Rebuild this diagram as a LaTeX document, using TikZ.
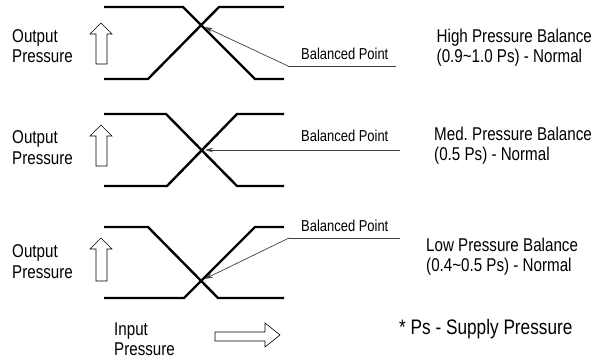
\documentclass[tikz,border=0pt]{standalone}
\usepackage{fontspec}
\setmainfont[FakeStretch=0.82]{Liberation Sans}
\frenchspacing
\usepackage{tikz}
\usetikzlibrary{arrows.meta}
\tikzstyle{curve} = [line width=2.4pt, draw=black]
\tikzstyle{hollow} = [draw=black, line width=0.6pt]
\tikzstyle{leader} = [draw=black!75, line width=0.7pt]
\tikzstyle{arrow} = [leader,-{Stealth[length=8pt,width=4.5pt]},shorten >=3.5pt]
\tikzstyle{axis} = [align=left, anchor=north west, inner sep=0pt, font=\fontsize{18.5}{20.5}\selectfont]
\tikzstyle{mode} = [align=left, anchor=north west, inner sep=0pt, font=\fontsize{18.5}{19.5}\selectfont]
\tikzstyle{point} = [anchor=base west, inner sep=0pt, font=\fontsize{15.8}{18}\selectfont]

\begin{document}
\begin{tikzpicture}[x=1pt,y=-1pt]
\useasboundingbox (0,0) rectangle (604,362);

% high pressure balance
\node (out1) [axis] at (12,29.2) {Output\\Pressure};
\draw [hollow] (101,23) -- (112,34) -- (107,34) -- (107,64) -- (96,64) -- (96,34) -- (90,34) -- cycle;
\draw [curve] (104,7) -- (183,7) -- (255,79) -- (284,79);
\draw [curve] (104,79) -- (148,79) -- (219,7) -- (284,7);
\coordinate (x1) at (201.5,25.5);
\node (bp1) [point] at (301,59.3) {Balanced Point};
\coordinate (k1) at (288,66);
\coordinate (e1) at (396,66);
\draw [leader] (e1) -- (k1);
\draw [arrow] (k1) -- (x1);
\node (high) [mode] at (436.5,29) {High Pressure Balance\\(0.9\char"7E 1.0 Ps) - Normal};

% med pressure balance
\node (out2) [axis] at (12,130.5) {Output\\Pressure};
\draw [hollow] (101,125) -- (112,136) -- (107,136) -- (107,166) -- (96,166) -- (96,136) -- (90,136) -- cycle;
\draw [curve] (104,114) -- (166,114) -- (237,186) -- (284,186);
\draw [curve] (104,186) -- (167,186) -- (237,114) -- (284,114);
\coordinate (x2) at (201.5,150);
\node (bp2) [point] at (301,141.7) {Balanced Point};
\coordinate (e2) at (400,150);
\draw [arrow] (e2) -- (x2);
\node (med) [mode] at (434,127.2) {Med. Pressure Balance\\(0.5 Ps) - Normal};

% low pressure balance
\node (out3) [axis] at (12,244.5) {Output\\Pressure};
\draw [hollow] (101,238) -- (112,249) -- (107,249) -- (107,281) -- (96,281) -- (96,249) -- (90,249) -- cycle;
\draw [curve] (104,227) -- (148,227) -- (218,298) -- (284,298);
\draw [curve] (104,298) -- (184,298) -- (255,227) -- (284,227);
\coordinate (x3) at (201.5,280.5);
\node (bp3) [point] at (301,231.7) {Balanced Point};
\coordinate (k3) at (289,238);
\coordinate (e3) at (400,238);
\draw [leader] (e3) -- (k3);
\draw [arrow] (k3) -- (x3);
\node (low) [mode] at (426,238.2) {Low Pressure Balance\\(0.4\char"7E 0.5 Ps) - Normal};

% input axis
\node (in) [axis] at (114,322.5) {Input\\Pressure};
\draw [hollow] (215,332) -- (265,332) -- (265,323) -- (280,335) -- (265,347) -- (265,341) -- (215,341) -- cycle;
\node (ps) [anchor=base west, inner sep=0pt, font=\fontsize{21}{24}\selectfont] at (399,334.3) {* Ps - Supply Pressure};

\end{tikzpicture}
\end{document}
